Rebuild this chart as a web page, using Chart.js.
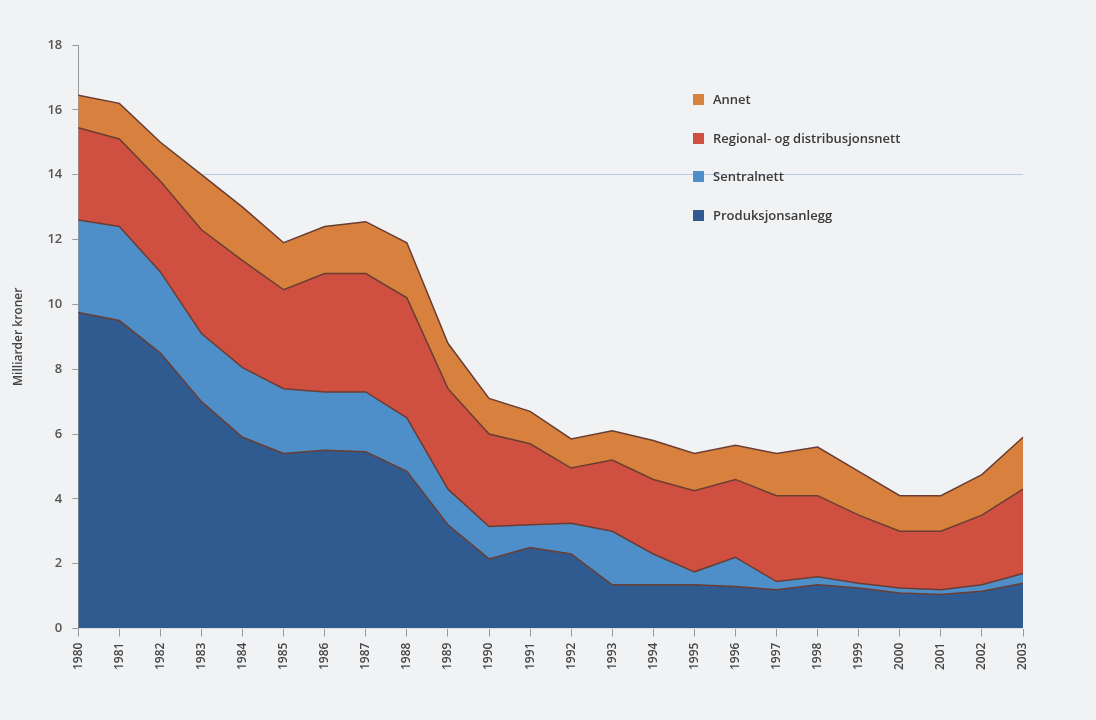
<!DOCTYPE html>
<html>
<head>
<meta charset="utf-8">
<script src="https://cdn.jsdelivr.net/npm/chart.js@4/dist/chart.umd.min.js"></script>
<style>
  body { margin: 0; background: #f1f2f4; }
  #wrap { position: relative; width: 1096px; height: 720px; }
  #legend { position: absolute; left: 693px; top: 90px; font-family: 'Open Sans', sans-serif; font-size: 13px; font-weight: 600; color: #3a3a3a; }
  #legend div { height: 38.5px; display: flex; align-items: flex-start; }
  #legend span.box { display: inline-block; width: 11px; height: 11px; margin: 4px 9px 0 0; }
</style>
</head>
<body>
<div id="wrap">
  <canvas id="myChart" width="1096" height="720"></canvas>
  <div id="legend"></div>
</div>
<script>
'use strict';

let years = ['1980', '1981', '1982', '1983', '1984', '1985', '1986', '1987', '1988', '1989', '1990', '1991',
    '1992', '1993', '1994', '1995', '1996', '1997', '1998', '1999', '2000', '2001', '2002', '2003'];

let produksjon = [9.75, 9.5, 8.5, 7.0, 5.9, 5.4, 5.5, 5.45, 4.85, 3.2, 2.15, 2.5,
    2.3, 1.35, 1.35, 1.35, 1.3, 1.2, 1.35, 1.25, 1.1, 1.05, 1.15, 1.4];
let sentral = [2.85, 2.9, 2.5, 2.1, 2.15, 2.0, 1.8, 1.85, 1.65, 1.1, 1.0, 0.7,
    0.95, 1.65, 0.95, 0.4, 0.9, 0.25, 0.25, 0.15, 0.15, 0.15, 0.2, 0.3];
let regional = [2.85, 2.7, 2.8, 3.2, 3.3, 3.05, 3.65, 3.65, 3.7, 3.1, 2.85, 2.5,
    1.7, 2.2, 2.3, 2.5, 2.4, 2.65, 2.5, 2.1, 1.75, 1.8, 2.15, 2.6];
let annet = [1.0, 1.1, 1.2, 1.7, 1.65, 1.45, 1.45, 1.6, 1.7, 1.4, 1.1, 1.0,
    0.9, 0.9, 1.2, 1.15, 1.05, 1.3, 1.5, 1.35, 1.1, 1.1, 1.25, 1.6];

let seriesNames = ['Produksjonsanlegg', 'Sentralnett', 'Regional- og distribusjonsnett', 'Annet'];
let seriesColors = ['#2f5b91', '#4f8fc9', '#cf4f41', '#d8803d'];
let seriesData = [produksjon, sentral, regional, annet];

let yTicks = [0, 2, 4, 6, 8, 10, 12, 14, 16, 18];

let datasets = [];
for (let i = 0; i < seriesData.length; i++) {
    datasets.push({
        label: seriesNames[i],
        data: seriesData[i],
        backgroundColor: seriesColors[i],
        borderColor: '#6a3d33',
        borderWidth: 1.5,
        pointRadius: 0,
        tension: 0,
        fill: i === 0 ? 'origin' : '-1'
    });
}

// legend, top item is the top layer
let legendDiv = document.getElementById('legend');
for (let i = seriesNames.length - 1; i >= 0; i--) {
    let row = document.createElement('div');
    let box = document.createElement('span');
    box.className = 'box';
    box.style.background = seriesColors[i];
    row.appendChild(box);
    row.appendChild(document.createTextNode(seriesNames[i]));
    legendDiv.appendChild(row);
}

let ctx = document.getElementById('myChart').getContext('2d');
let chart = new Chart(ctx, {
    type: 'line',
    data: {
        labels: years,
        datasets: datasets
    },
    options: {
        responsive: false,
        animation: false,
        layout: { padding: { left: 7, right: 73, top: 45, bottom: 44 } },
        plugins: {
            legend: { display: false },
            tooltip: { enabled: false }
        },
        scales: {
            x: {
                offset: false,
                grid: { drawOnChartArea: false, color: '#9a9a9a', tickLength: 8 },
                border: { display: false },
                ticks: {
                    minRotation: 90, maxRotation: 90, autoSkip: false, padding: 6,
                    color: '#444', font: { family: 'Open Sans', size: 12, weight: '600' }
                }
            },
            y: {
                stacked: true,
                min: 0, max: 18,
                afterBuildTicks: function (axis) {
                    axis.ticks = yTicks.map(v => ({ value: v }));
                },
                grid: {
                    tickLength: 6,
                    tickColor: '#9a9a9a',
                    color: function (c) {
                        return c.tick && c.tick.value === 14 ? 'rgba(160,185,225,0.7)' : 'rgba(0,0,0,0)';
                    }
                },
                border: { display: true, color: '#9a9a9a', width: 1 },
                ticks: {
                    padding: 10,
                    color: '#555', font: { family: 'Open Sans', size: 13, weight: '600' }
                },
                title: {
                    display: true, text: 'Milliarder kroner', padding: { bottom: 12 },
                    color: '#444', font: { family: 'Open Sans', size: 12, weight: '600' }
                }
            }
        }
    }
});
</script>
</body>
</html>
